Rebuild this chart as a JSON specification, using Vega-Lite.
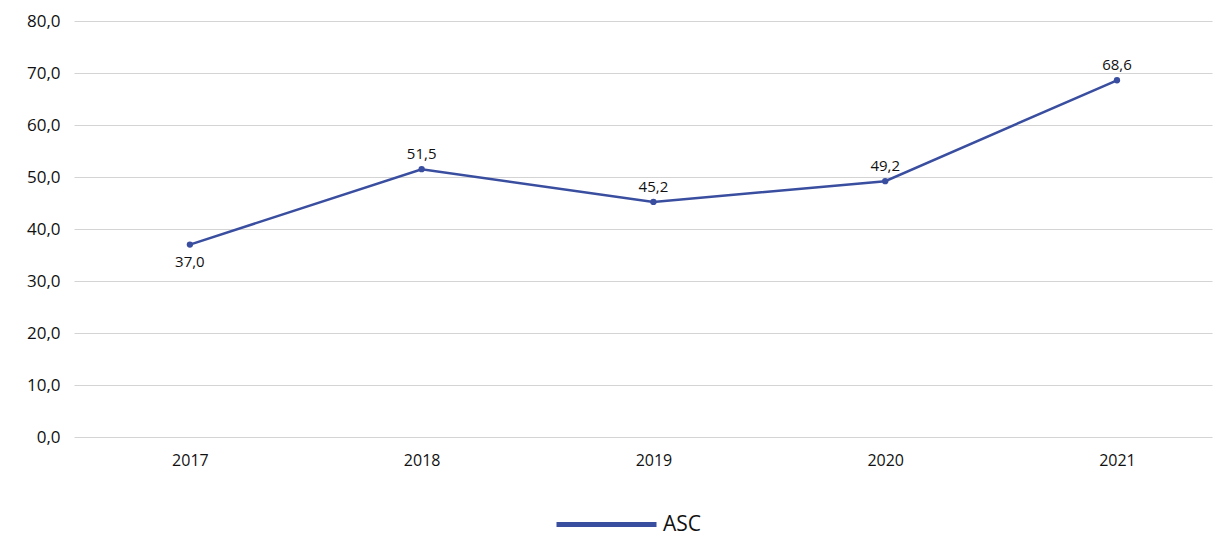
{
  "$schema": "https://vega.github.io/schema/vega-lite/v6.json",
  "autosize": "none",
  "width": 1138,
  "height": 416,
  "padding": {"left": 74, "top": 21, "right": 7, "bottom": 98},
  "background": "white",
  "config": {
    "font": "Open Sans",
    "view": {"stroke": null},
    "locale": {
      "number": {"decimal": ",", "thousands": ".", "grouping": [3], "currency": ["", " €"]}
    }
  },
  "data": {
    "values": [
      {"year": 2017, "value": 37.0, "series": "ASC"},
      {"year": 2018, "value": 51.5, "series": "ASC"},
      {"year": 2019, "value": 45.2, "series": "ASC"},
      {"year": 2020, "value": 49.2, "series": "ASC"},
      {"year": 2021, "value": 68.6, "series": "ASC"}
    ]
  },
  "encoding": {
    "x": {
      "field": "year",
      "type": "quantitative",
      "scale": {"domain": [2016.5, 2021.41], "nice": false, "zero": false},
      "axis": {
        "title": null,
        "values": [2017, 2018, 2019, 2020, 2021],
        "format": "d",
        "grid": false,
        "domain": false,
        "ticks": false,
        "labelPadding": 15,
        "labelFontSize": 16,
        "labelColor": "#111111"
      }
    },
    "y": {
      "field": "value",
      "type": "quantitative",
      "scale": {"domain": [0, 80], "nice": false},
      "axis": {
        "title": null,
        "values": [0, 10, 20, 30, 40, 50, 60, 70, 80],
        "format": ".1f",
        "domain": false,
        "ticks": false,
        "labelPadding": 14,
        "labelFontSize": 17,
        "labelColor": "#111111",
        "gridColor": "#d4d4d4",
        "gridWidth": 1
      }
    }
  },
  "layer": [
    {
      "mark": {"type": "line", "strokeWidth": 2.5, "point": {"size": 40, "filled": true}},
      "encoding": {
        "color": {
          "field": "series",
          "type": "nominal",
          "scale": {"range": ["#3a4ea0"]},
          "legend": {
            "title": null,
            "orient": "none",
            "legendX": 520,
            "legendY": 491,
            "symbolType": "M-5,0H5",
            "symbolSize": 400,
            "symbolStrokeWidth": 5,
            "labelFontSize": 21,
            "labelColor": "#111111",
            "labelOffset": 44
          }
        }
      }
    },
    {
      "transform": [{"filter": "datum.year != 2017"}],
      "mark": {"type": "text", "dy": -15, "fontSize": 15, "color": "#111111"},
      "encoding": {
        "text": {"field": "value", "type": "quantitative", "format": ".1f"}
      }
    },
    {
      "transform": [{"filter": "datum.year == 2017"}],
      "mark": {"type": "text", "dy": 17, "fontSize": 15, "color": "#111111"},
      "encoding": {
        "text": {"field": "value", "type": "quantitative", "format": ".1f"}
      }
    }
  ]
}
